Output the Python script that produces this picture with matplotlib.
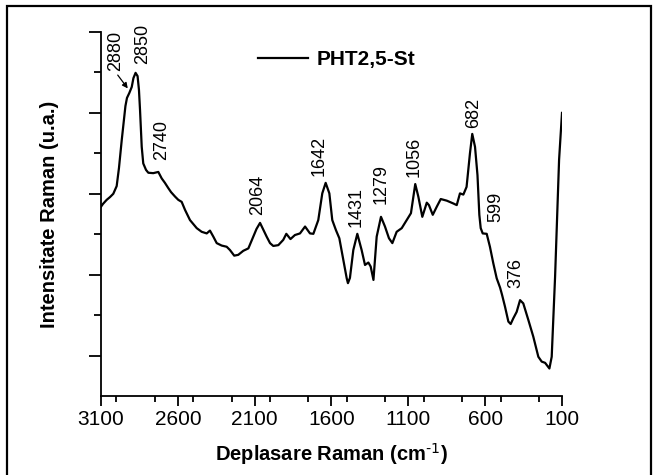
import matplotlib
matplotlib.use("Agg")
import matplotlib.pyplot as plt
from matplotlib.patches import Rectangle
from matplotlib.ticker import MultipleLocator

plt.rcParams['font.family'] = ['Liberation Sans', 'DejaVu Sans']
plt.rcParams['mathtext.default'] = 'regular'

# Raman shift (cm-1) and intensity (a.u.)
wavenumber = [3100, 3087, 3063, 3041, 3020, 2998, 2983, 2965, 2950, 2941, 2931, 2916,
              2900, 2889, 2875, 2862, 2853, 2846, 2840, 2835, 2825, 2807, 2792, 2760,
              2727, 2705, 2684, 2662, 2644, 2618, 2597, 2575, 2553, 2521, 2477, 2445,
              2412, 2391, 2369, 2347, 2315, 2282, 2261, 2233, 2207, 2174, 2141, 2109,
              2088, 2065, 2046, 2022, 2000, 1979, 1946, 1914, 1894, 1867, 1838, 1805,
              1772, 1740, 1718, 1686, 1660, 1638, 1614, 1595, 1571, 1549, 1523, 1501,
              1493, 1480, 1458, 1432, 1404, 1382, 1360, 1345, 1327, 1306, 1278, 1252,
              1226, 1204, 1176, 1143, 1111, 1083, 1055, 1035, 1009, 980, 966, 941,
              915, 889, 850, 807, 785, 764, 742, 721, 699, 684, 666, 650,
              638, 629, 616, 590, 569, 547, 525, 503, 490, 471, 449, 434,
              417, 395, 373, 352, 319, 287, 254, 232, 210, 182, 167, 156,
              145, 134, 119, 101, 100]
intensity = [4.68, 4.75, 4.85, 4.92, 5.00, 5.19, 5.64, 6.33, 6.87, 7.17, 7.37, 7.49,
             7.64, 7.86, 7.99, 7.91, 7.57, 7.07, 6.58, 6.16, 5.75, 5.59, 5.52, 5.51,
             5.54, 5.38, 5.27, 5.14, 5.04, 4.93, 4.85, 4.80, 4.60, 4.35, 4.15, 4.06,
             4.02, 4.09, 3.94, 3.78, 3.72, 3.69, 3.61, 3.47, 3.49, 3.59, 3.65, 3.94,
             4.13, 4.28, 4.13, 3.94, 3.78, 3.71, 3.73, 3.86, 4.01, 3.88, 3.98, 4.02,
             4.19, 4.02, 4.01, 4.35, 5.01, 5.27, 5.01, 4.35, 4.10, 3.90, 3.36, 2.91,
             2.79, 2.92, 3.61, 4.01, 3.61, 3.24, 3.30, 3.20, 2.87, 3.94, 4.43, 4.19,
             3.90, 3.78, 4.06, 4.15, 4.35, 4.52, 5.24, 4.93, 4.43, 4.78, 4.72, 4.48,
             4.68, 4.87, 4.83, 4.76, 4.72, 5.01, 4.98, 5.17, 6.00, 6.48, 6.16, 5.46,
             4.48, 4.15, 4.02, 4.01, 3.69, 3.28, 2.91, 2.68, 2.50, 2.21, 1.84, 1.78,
             1.92, 2.08, 2.37, 2.29, 1.88, 1.47, 0.97, 0.85, 0.82, 0.68, 0.97, 1.96,
             2.95, 4.19, 5.84, 6.95, 7.00]

peak_labels = ['2880', '2850', '2740', '2064', '1642', '1431', '1279', '1056', '682', '599', '376']
label_x = [3006, 2830, 2706, 2078, 1678, 1441, 1278, 1063, 676, 529, 399]
label_y = [8.53, 8.70, 6.33, 4.97, 5.93, 4.67, 5.23, 5.91, 7.00, 4.67, 3.04]

x_ticks = [3100, 2600, 2100, 1600, 1100, 600, 100]
series_name = 'PHT2,5-St'

fig = plt.figure(figsize=(6.55, 4.75), dpi=100)
ax = fig.add_axes([101/655, 79/475, 461/655, 364/475])

ax.plot(wavenumber, intensity, color='black', lw=1.6, label=series_name,
        solid_joinstyle='round')

ax.set_xlim(3100, 100)
ax.set_ylim(0, 9)
ax.set_xticks(x_ticks)
ax.xaxis.set_minor_locator(MultipleLocator(250))
ax.set_yticks([1, 3, 5, 7, 9])
ax.set_yticks([2, 4, 6, 8], minor=True)
ax.set_yticklabels([])
ax.tick_params(axis='x', which='major', direction='out', length=7, width=1.3, labelsize=15, pad=3)
ax.tick_params(axis='x', which='minor', direction='out', length=4, width=1.3)
ax.tick_params(axis='y', which='major', direction='out', length=9, width=1.3)
ax.tick_params(axis='y', which='minor', direction='out', length=5, width=1.3)
for s in ['top', 'right']:
    ax.spines[s].set_visible(False)
for s in ['left', 'bottom']:
    ax.spines[s].set_linewidth(1.3)

ax.set_xlabel(r'Deplasare Raman (cm$^{\text{-1}}$)', fontsize=14.5, fontweight='bold')
ax.set_ylabel('Intensitate Raman (u.a.)', fontsize=14.5, fontweight='bold')
ax.xaxis.set_label_coords(0.5, -0.125)
ax.yaxis.set_label_coords(-0.091, 0.5)

for t, lx, ly in zip(peak_labels, label_x, label_y):
    ax.text(lx, ly, t, rotation=90, ha='center', va='center', fontsize=13)

ax.annotate('', xy=(2915, 7.55), xytext=(3002, 7.99),
            arrowprops=dict(arrowstyle='-|>', color='black', lw=0.9, mutation_scale=8))

leg = ax.legend(loc='center left', bbox_to_anchor=(258/655, 1 - 60/475),
                bbox_transform=fig.transFigure, frameon=False, borderpad=0,
                borderaxespad=0, handlelength=2.4, handletextpad=0.4,
                prop={'size': 15, 'weight': 'bold'})

fig.patches.append(Rectangle((7/655, -0.1), 644/655, 1.1 - 6/475,
                             transform=fig.transFigure, fill=False,
                             edgecolor='black', lw=1.6))

fig.savefig('out.png', dpi=100)
